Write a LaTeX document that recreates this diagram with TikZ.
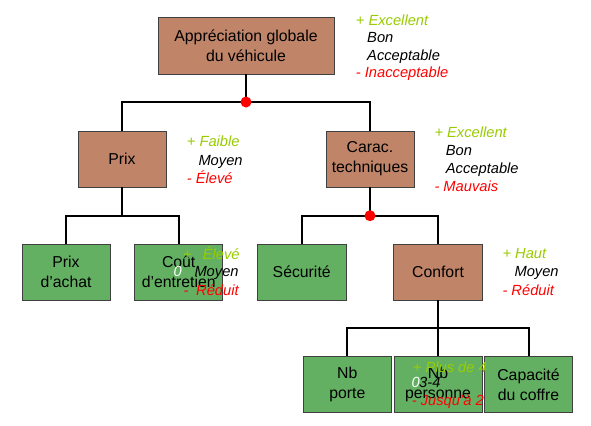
\documentclass[tikz,border=0pt]{standalone}
\usepackage{fontspec}
\setmainfont{Liberation Sans}
\definecolor{brownbox}{RGB}{192,132,104}
\definecolor{greenbox}{RGB}{99,176,99}
\definecolor{lgreen}{RGB}{153,204,0}
\begin{document}
\begin{tikzpicture}[x=1bp,y=-1bp,
 box/.style={draw=black!75,line width=0.9bp,minimum width=88bp,minimum height=56bp,inner sep=0,align=center,font=\fontsize{15.8bp}{20bp}\selectfont,text=black},
 crit/.style={box,fill=brownbox},
 leaf/.style={box,fill=greenbox},
 link/.style={line width=2bp},
 jdot/.style={circle,fill=red,inner sep=0,minimum size=11bp},
 lab/.style={anchor=base west,inner sep=0,font=\fontsize{14.7bp}{17.5bp}\selectfont\itshape},
 good/.style={lab,text=lgreen},
 mid/.style={lab,text=black},
 bad/.style={lab,text=red},
 zero/.style={lab,text=white}]
\fill[white] (0,0) rectangle (591,425);
\useasboundingbox (0,0) rectangle (591,425);
% junctions
\coordinate (j1) at (246,102);
\coordinate (j2) at (122,215.7);
\coordinate (j3) at (370,215.7);
\coordinate (j4) at (438,327.7);
% boxes
\node[crit,minimum width=176bp,minimum height=57bp] (root) at (246,45.5) {Appréciation globale\\du véhicule};
\node[crit] (prix) at (122,159) {Prix};
\node[crit] (carac) at (370,159) {Carac.\\techniques};
\node[leaf] (achat) at (66,272) {Prix\\d’achat};
\node[leaf] (cout) at (178.7,272) {Coût\\d’entretien};
\node[leaf,minimum width=88.7bp] (secu) at (301.7,272) {Sécurité};
\node[crit,minimum width=88.6bp] (confort) at (438,272) {Confort};
\node[leaf,minimum height=56.4bp] (porte) at (347.3,384.5) {Nb\\porte};
\node[leaf,minimum height=56.4bp] (personne) at (438,384.5) {Nb\\personne};
\node[leaf,minimum width=88.4bp,minimum height=56.4bp] (coffre) at (528.5,384.5) {Capacité\\du coffre};
% connectors
\draw[link] (root.south) -- (j1);
\draw[link] (prix.north) |- (j1);
\draw[link] (carac.north) |- (j1);
\draw[link] (prix.south) -- (j2);
\draw[link] (achat.north) |- (j2);
\draw[link] (cout.north) |- (j2);
\draw[link] (carac.south) -- (j3);
\draw[link] (secu.north) |- (j3);
\draw[link] (confort.north) |- (j3);
\draw[link] (confort.south) -- (j4);
\draw[link] (porte.north) |- (j4);
\draw[link] (personne.north) -- (j4);
\draw[link] (coffre.north) |- (j4);
\node[jdot] (d1) at (j1) {};
\node[jdot] (d3) at (j3) {};
% labels root
\node[good] (r1) at (355.7,25) {+ Excellent};
\node[mid] (r2) at (367,42.7) {Bon};
\node[mid] (r3) at (367,60) {Acceptable};
\node[bad] (r4) at (355.7,77.7) {- Inacceptable};
% labels prix
\node[good] (p1) at (186.7,146.7) {+ Faible};
\node[mid] (p2) at (198.3,165) {Moyen};
\node[bad] (p3) at (186.7,183.3) {- Élevé};
% labels carac
\node[good] (c1) at (434.3,137.3) {+ Excellent};
\node[mid] (c2) at (445.7,155.7) {Bon};
\node[mid] (c3) at (445.7,173.3) {Acceptable};
\node[bad] (c4) at (434.3,191.7) {- Mauvais};
% labels confort
\node[good] (f1) at (502.3,258.3) {+ Haut};
\node[mid] (f2) at (514.3,276.7) {Moyen};
\node[bad] (f3) at (502.3,295) {- Réduit};
% labels cout
\node[good] (e1) at (182.7,259) {+};
\node[good] (e2) at (202.7,259) {Élevé};
\node[zero] (e3) at (173.5,276.7) {0};
\node[mid] (e4) at (194.3,276.7) {Moyen};
\node[bad] (e5) at (183.3,295) {-};
\node[bad] (e6) at (196,295) {Réduit};
% labels personne
\node[good] (n1) at (412.7,372) {+ Plus de 4};
\node[zero] (n2) at (411.5,387.7) {0};
\node[mid] (n3) at (419,387.7) {3-4};
\node[bad] (n4) at (411.7,405.3) {- Jusqu’à 2};
\end{tikzpicture}
\end{document}
